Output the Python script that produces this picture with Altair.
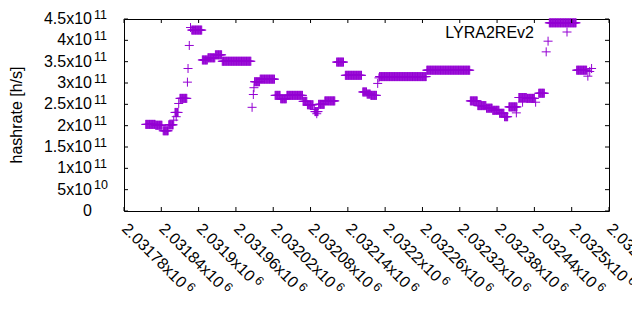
import altair as alt
import pandas as pd

# ---- data (hashrate in units of 1e11 h/s) ----
run_start = [2031815, 2031831, 2031843, 2031852, 2031862, 2031870, 2031889, 2031906,
             2031915, 2031927, 2031938, 2031990, 2031999, 2032023, 2032032, 2032042,
             2032068, 2032075, 2032087, 2032093, 2032103, 2032122, 2032136, 2032164,
             2032171, 2032177, 2032191, 2032267, 2032337, 2032349, 2032363, 2032373,
             2032384, 2032392, 2032399, 2032415, 2032428, 2032447, 2032464, 2032508]
run_end = [2031830, 2031841, 2031851, 2031859, 2031867, 2031881, 2031905, 2031914,
           2031926, 2031937, 2031984, 2031998, 2032022, 2032031, 2032041, 2032067,
           2032074, 2032084, 2032092, 2032102, 2032119, 2032133, 2032162, 2032170,
           2032176, 2032186, 2032266, 2032336, 2032348, 2032362, 2032372, 2032383,
           2032391, 2032397, 2032412, 2032427, 2032440, 2032456, 2032507, 2032524]
run_value = [2.03, 2.01, 1.88, 2.02, 2.31, 2.64, 4.24, 3.54,
             3.59, 3.66, 3.51, 3.03, 3.09, 2.71, 2.63, 2.71,
             2.57, 2.49, 2.33, 2.50, 2.58, 3.49, 3.18, 2.79,
             2.74, 2.71, 3.15, 3.30, 2.58, 2.47, 2.41, 2.36,
             2.29, 2.21, 2.44, 2.66, 2.64, 2.76, 4.41, 3.30]

single_block = [2031860, 2031864, 2031868, 2031882, 2031883, 2031885, 2031887,
                2031986, 2031988, 2031989, 2032086, 2032090, 2032188, 2032190,
                2032411, 2032421, 2032442, 2032459, 2032462, 2032526, 2032529, 2032532]
single_value = [2.13, 2.21, 2.52, 3.02, 3.34, 3.88, 4.30,
                2.43, 2.73, 2.89, 2.38, 2.28, 2.99, 3.12,
                2.30, 2.55, 2.55, 3.73, 3.98, 3.16, 3.27, 3.34]

x_tick_values = [2031780, 2031840, 2031900, 2031960, 2032020, 2032080, 2032140,
                 2032200, 2032260, 2032320, 2032380, 2032440, 2032500, 2032560]
x_tick_mant = ["2.03178x10", "2.03184x10", "2.0319x10", "2.03196x10", "2.03202x10",
               "2.03208x10", "2.03214x10", "2.0322x10", "2.03226x10", "2.03232x10",
               "2.03238x10", "2.03244x10", "2.0325x10", "2.03256x10"]
x_tick_exp = ["6"] * len(x_tick_values)

y_tick_values = [0, 5e10, 1e11, 1.5e11, 2e11, 2.5e11, 3e11, 3.5e11, 4e11, 4.5e11]
y_tick_mant = ["0", "5x10", "1x10", "1.5x10", "2x10", "2.5x10", "3x10", "3.5x10", "4x10", "4.5x10"]
y_tick_exp = ["", "10", "11", "11", "11", "11", "11", "11", "11", "11"]

series_name = "LYRA2REv2"
x_title = "block number"
y_title = "hashrate [h/s]"

# ---- tables ----
rows = []
for s, e, v in zip(run_start, run_end, run_value):
    for b in range(s, e + 1):
        rows.append((b, v * 1e11))
for b, v in zip(single_block, single_value):
    rows.append((b, v * 1e11))
pts = pd.DataFrame(rows, columns=["block", "hashrate"])

xt = pd.DataFrame({"tick": x_tick_values, "mant": x_tick_mant, "exp": x_tick_exp})
xt["nchar"] = xt["mant"].str.len()
yt = pd.DataFrame({"tick": y_tick_values, "mant": y_tick_mant, "exp": y_tick_exp})
one = pd.DataFrame({"a": [0]})

W, H = 485, 192
FONT = "Liberation Sans"
FS = 16
SUP = 12.5
COLOR = "#9400d3"
PLUS = "M-1,0L1,0M0,-1L0,1"

xs = alt.Scale(domain=[2031780, 2032560], nice=False, zero=False)
ys = alt.Scale(domain=[0, 4.5e11], nice=False, zero=False)

points = alt.Chart(pts).mark_point(shape=PLUS, filled=False, size=81, strokeWidth=1,
                                   color=COLOR, opacity=1).encode(
    x=alt.X("block:Q", scale=xs, axis=None),
    y=alt.Y("hashrate:Q", scale=ys, axis=None),
)

xbase = alt.Chart(xt)
tick_bottom = xbase.mark_rule(color="black", strokeWidth=1).encode(
    x=alt.X("tick:Q", scale=xs, axis=None), y=alt.value(H), y2=alt.value(H - 4))
tick_top = xbase.mark_rule(color="black", strokeWidth=1).encode(
    x=alt.X("tick:Q", scale=xs, axis=None), y=alt.value(0), y2=alt.value(4))

ybase = alt.Chart(yt)
tick_left = ybase.mark_rule(color="black", strokeWidth=1).encode(
    y=alt.Y("tick:Q", scale=ys, axis=None), x=alt.value(0), x2=alt.value(4))
tick_right = ybase.mark_rule(color="black", strokeWidth=1).encode(
    y=alt.Y("tick:Q", scale=ys, axis=None), x=alt.value(W - 4), x2=alt.value(W))

y_mant = ybase.mark_text(align="right", baseline="middle", font=FONT, fontSize=FS,
                         color="black").encode(
    y=alt.Y("tick:Q", scale=ys, axis=None), x=alt.value(-32), text="mant:N")
y_exp = ybase.mark_text(align="left", baseline="middle", font=FONT, fontSize=SUP,
                        color="black", dy=-4.5).encode(
    y=alt.Y("tick:Q", scale=ys, axis=None), x=alt.value(-30), text="exp:N")

DX, DY = -3.5, 0.7
x_mant = xbase.mark_text(align="left", baseline="alphabetic", angle=45, font=FONT,
                         fontSize=FS, color="black", dx=DX, dy=DY).encode(
    x=alt.X("tick:Q", scale=xs, axis=None), y=alt.value(H + 20.7), text="mant:N")
x_exp_long = xbase.transform_filter(alt.datum.nchar == 10).mark_text(
    align="left", baseline="alphabetic", angle=45, font=FONT, fontSize=SUP,
    color="black", dx=DX + 83.6 + 3, dy=DY - 5).encode(
    x=alt.X("tick:Q", scale=xs, axis=None), y=alt.value(H + 20.7), text="exp:N")
x_exp_short = xbase.transform_filter(alt.datum.nchar == 9).mark_text(
    align="left", baseline="alphabetic", angle=45, font=FONT, fontSize=SUP,
    color="black", dx=DX + 74.7 + 3, dy=DY - 5).encode(
    x=alt.X("tick:Q", scale=xs, axis=None), y=alt.value(H + 20.7), text="exp:N")

ob = alt.Chart(one)
xtitle = ob.mark_text(text=x_title, align="center", baseline="alphabetic", font=FONT,
                      fontSize=FS, color="black").encode(x=alt.value(241), y=alt.value(304))
ytitle = ob.mark_text(text=y_title, align="center", baseline="middle", angle=270,
                      font=FONT, fontSize=FS, color="black").encode(
    x=alt.value(-107.5), y=alt.value(96))
leg_text = ob.mark_text(text=series_name, align="right", baseline="alphabetic", font=FONT,
                        fontSize=FS, color="black").encode(x=alt.value(410), y=alt.value(19))
leg_pt = ob.mark_point(shape=PLUS, filled=False, size=81, strokeWidth=1, color=COLOR,
                       opacity=1).encode(x=alt.value(443), y=alt.value(13))

chart = alt.layer(
    points, tick_bottom, tick_top, tick_left, tick_right,
    y_mant, y_exp, x_mant, x_exp_long, x_exp_short,
    xtitle, ytitle, leg_text, leg_pt,
).properties(
    width=W, height=H,
    autosize=alt.AutoSizeParams(type="none"),
    padding={"left": 116, "top": 11, "right": 23, "bottom": 100},
    background="white",
).configure_view(stroke="black", strokeWidth=1)

chart.save("out.html", embed_options={"renderer": "svg", "actions": False})
